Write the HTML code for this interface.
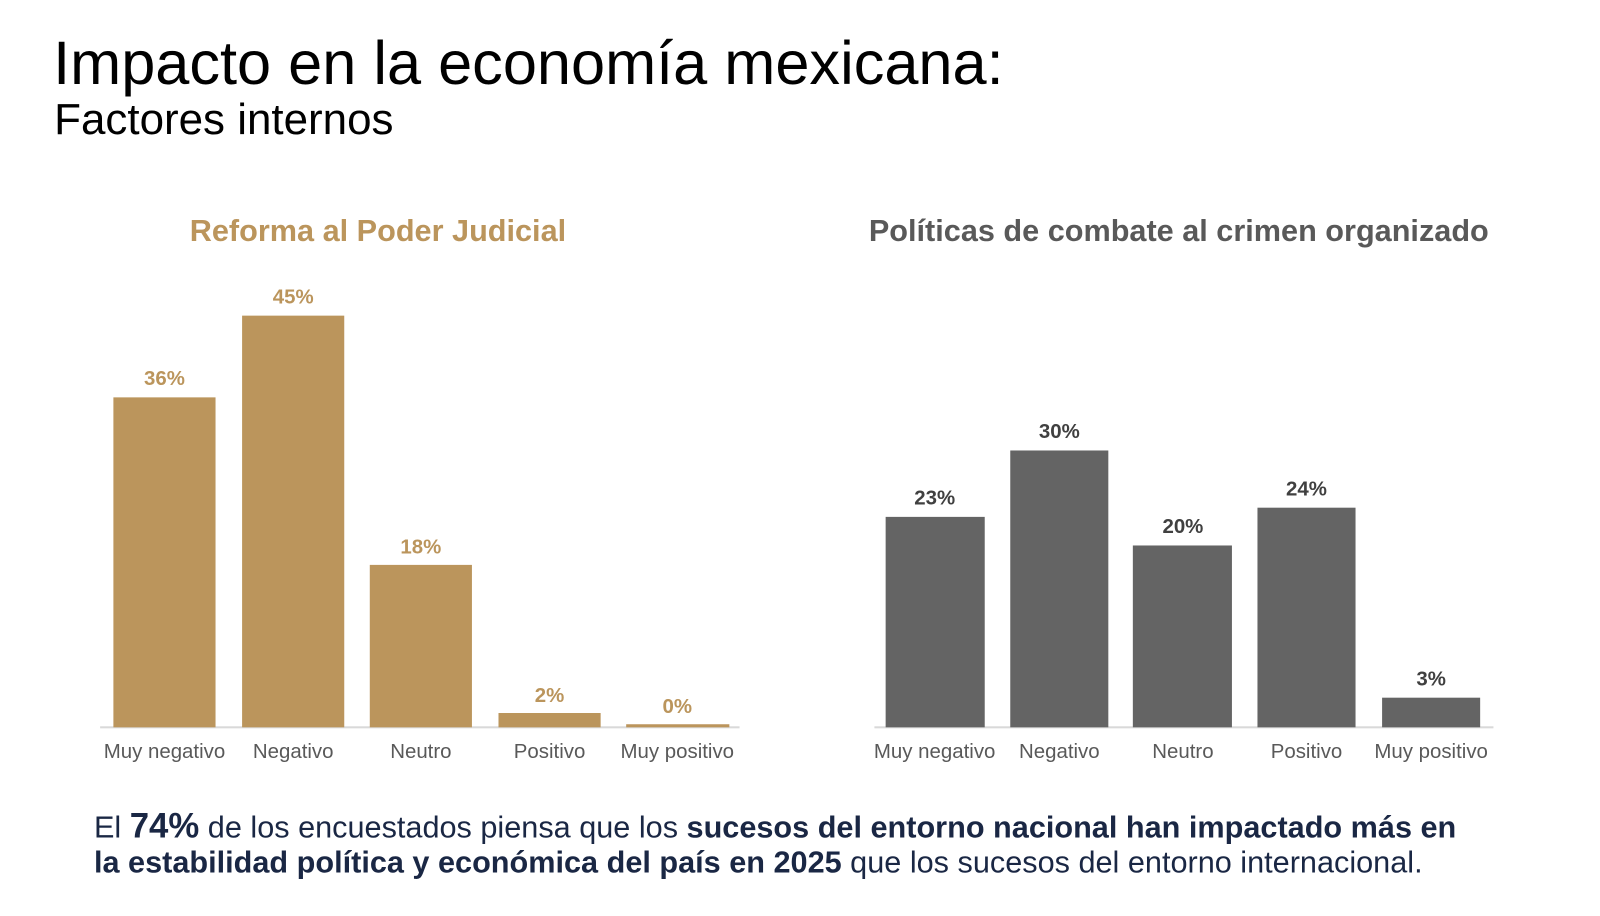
<!DOCTYPE html>
<html><head><meta charset="utf-8"><style>
body{margin:0;width:1600px;height:897px;background:#fff;font-family:"Liberation Sans",Arial,sans-serif;position:relative;overflow:hidden}
#w{position:absolute;left:0;top:0;width:1600px;height:897px;transform:scale(1.0215);transform-origin:0 0}
.a{position:absolute;white-space:nowrap}
.b{position:absolute}
.g{background:#bb955c}.d{background:#646464}
.v{position:absolute;font-weight:bold;font-size:20px;text-align:center;width:120px}
.l{position:absolute;font-size:20px;color:#595959;text-align:center;width:140px}
</style></head><body><div id="w">
<div class="a" style="left:52px;top:27px;font-size:60px;color:#000">Impacto en la economía mexicana:</div>
<div class="a" style="left:53px;top:93px;font-size:43px;color:#000">Factores internos</div>
<div class="a" style="left:120px;top:210px;width:500px;text-align:center;font-size:30px;font-weight:bold;color:#bb955c">Reforma al Poder Judicial</div>
<div class="a" style="left:804px;top:210px;width:700px;text-align:center;font-size:30px;font-weight:bold;color:#595959">Políticas de combate al crimen organizado</div>

<div class="b" style="left:98px;top:711px;width:626px;height:2px;background:#d9d9d9"></div>
<div class="b" style="left:856px;top:711px;width:606px;height:2px;background:#d9d9d9"></div>

<div class="b g" style="left:111px;top:389px;width:100px;height:323px"></div>
<div class="b g" style="left:237px;top:309px;width:100px;height:403px"></div>
<div class="b g" style="left:362px;top:553px;width:100px;height:159px"></div>
<div class="b g" style="left:488px;top:698px;width:100px;height:14px"></div>
<div class="b g" style="left:613px;top:709px;width:101px;height:3px"></div>
<div class="v" style="left:101px;top:360px;color:#bb955c">36%</div>
<div class="v" style="left:227px;top:280px;color:#bb955c">45%</div>
<div class="v" style="left:352px;top:525px;color:#bb955c">18%</div>
<div class="v" style="left:478px;top:670px;color:#bb955c">2%</div>
<div class="v" style="left:603px;top:681px;color:#bb955c">0%</div>
<div class="l" style="left:91px;top:725px">Muy negativo</div>
<div class="l" style="left:217px;top:725px">Negativo</div>
<div class="l" style="left:342px;top:725px">Neutro</div>
<div class="l" style="left:468px;top:725px">Positivo</div>
<div class="l" style="left:593px;top:725px">Muy positivo</div>

<div class="b d" style="left:867px;top:506px;width:97px;height:206px"></div>
<div class="b d" style="left:989px;top:441px;width:96px;height:271px"></div>
<div class="b d" style="left:1109px;top:534px;width:97px;height:178px"></div>
<div class="b d" style="left:1231px;top:497px;width:96px;height:215px"></div>
<div class="b d" style="left:1353px;top:683px;width:96px;height:29px"></div>
<div class="v" style="left:855px;top:477px;color:#404040">23%</div>
<div class="v" style="left:977px;top:412px;color:#404040">30%</div>
<div class="v" style="left:1098px;top:505px;color:#404040">20%</div>
<div class="v" style="left:1219px;top:468px;color:#404040">24%</div>
<div class="v" style="left:1341px;top:654px;color:#404040">3%</div>
<div class="l" style="left:845px;top:725px">Muy negativo</div>
<div class="l" style="left:967px;top:725px">Negativo</div>
<div class="l" style="left:1088px;top:725px">Neutro</div>
<div class="l" style="left:1209px;top:725px">Positivo</div>
<div class="l" style="left:1331px;top:725px">Muy positivo</div>

<div class="a" style="left:92px;top:792px;font-size:30px;line-height:34px;color:#1a2744">El <b style="font-size:34px">74%</b> de los encuestados piensa que los <b>sucesos del entorno nacional han impactado más en</b><br><b>la estabilidad política y económica del país en 2025</b> que los sucesos del entorno internacional.</div>
</div></body></html>
